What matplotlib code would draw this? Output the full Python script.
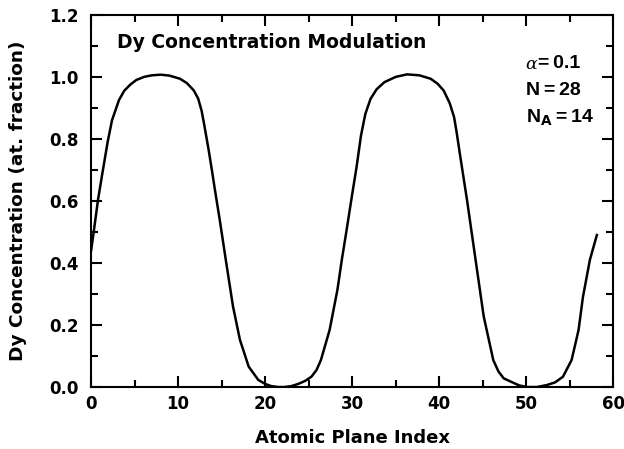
import numpy as np
import matplotlib.pyplot as plt
from matplotlib.ticker import MultipleLocator

plt.rcParams['font.family'] = ['DejaVu Sans']
plt.rcParams['font.weight'] = 'bold'

# traced profile (atomic plane index, Dy fraction)
plane_idx = [0, 0.3, 0.8, 1.3, 1.9, 2.4, 3.2, 3.8, 4.5, 5.2, 6.1, 7.0, 8.0, 9.0,
             10.2, 11.0, 11.8, 12.3, 12.7, 13.0, 13.5, 13.9, 14.2, 14.8, 15.5,
             16.3, 17.1, 18.1, 19.2, 20.0, 20.7, 21.5, 22.2, 23.0, 23.8, 24.6,
             25.3, 25.9, 26.4, 27.4, 28.3, 28.8, 29.3, 29.9, 30.5, 31.0, 31.5,
             32.1, 32.8, 33.7, 35.0, 36.3, 37.7, 39.0, 39.8, 40.5, 41.2, 41.7,
             42.0, 42.4, 43.2, 44.0, 45.1, 46.2, 46.8, 47.4, 48.4, 49.2, 50.1,
             51.2, 52.3, 53.3, 54.2, 55.2, 56.0, 56.5, 57.3, 58.1]
dy_conc = [0.44, 0.50, 0.605, 0.69, 0.79, 0.86, 0.925, 0.955, 0.975, 0.99, 1.0,
           1.005, 1.007, 1.004, 0.994, 0.98, 0.956, 0.93, 0.89, 0.845, 0.765,
           0.695, 0.64, 0.535, 0.405, 0.26, 0.152, 0.066, 0.023, 0.01, 0.003,
           0.0, 0.0, 0.003, 0.01, 0.02, 0.033, 0.055, 0.087, 0.184, 0.314,
           0.41, 0.497, 0.605, 0.71, 0.81, 0.88, 0.929, 0.96, 0.983, 1.0, 1.008,
           1.005, 0.994, 0.978, 0.956, 0.915, 0.87, 0.82, 0.745, 0.6, 0.443,
           0.228, 0.087, 0.05, 0.028, 0.015, 0.005, 0.0, 0.0, 0.006, 0.015,
           0.033, 0.087, 0.184, 0.29, 0.41, 0.49]

fig = plt.figure(figsize=(6.24, 4.49), dpi=100)
ax = fig.add_axes([0.146, 0.138, 0.837, 0.829])

ax.plot(plane_idx, dy_conc, color='black', linewidth=1.8)

ax.set_xlim(0, 60)
ax.set_ylim(0, 1.2)
ax.xaxis.set_major_locator(MultipleLocator(10))
ax.xaxis.set_minor_locator(MultipleLocator(5))
ax.yaxis.set_major_locator(MultipleLocator(0.2))
ax.yaxis.set_minor_locator(MultipleLocator(0.1))
ax.yaxis.set_major_formatter(plt.FormatStrFormatter('%.1f'))
ax.tick_params(which='both', direction='in', top=True, right=True, width=1.5,
               labelsize=12)
ax.tick_params(axis='x', pad=6)
ax.tick_params(axis='y', pad=9)
ax.tick_params(which='major', length=8)
ax.tick_params(which='minor', length=5)
for s in ax.spines.values():
    s.set_linewidth(1.5)

ax.set_xlabel('Atomic Plane Index', fontsize=13, fontweight='bold', labelpad=11)
ax.set_ylabel('Dy Concentration (at. fraction)', fontsize=13.3, fontweight='bold')
ax.yaxis.set_label_coords(-0.122, 0.5)

ax.text(0.05, 0.925, 'Dy Concentration Modulation', transform=ax.transAxes,
        fontsize=13.5, fontweight='bold', va='center')

ann_font = ['Liberation Sans', 'DejaVu Sans']
ts = '\u2009'
ax.text(0.832, 0.866, 'α', transform=ax.transAxes, fontsize=12.5,
        fontweight='normal', style='italic', family='DejaVu Serif', va='center')
ax.text(0.856, 0.87, f'={ts}0.1', transform=ax.transAxes, fontsize=14,
        fontweight='bold', family=ann_font, va='center')
ax.text(0.832, 0.797, f'N{ts}={ts}28', transform=ax.transAxes, fontsize=14,
        fontweight='bold', family=ann_font, va='center')
ax.text(0.832, 0.722, r'N$_{\mathbf{A}}$' + f'{ts}={ts}14', transform=ax.transAxes,
        fontsize=14, fontweight='bold', family=ann_font, va='center')

fig.savefig('out.png', dpi=100)
